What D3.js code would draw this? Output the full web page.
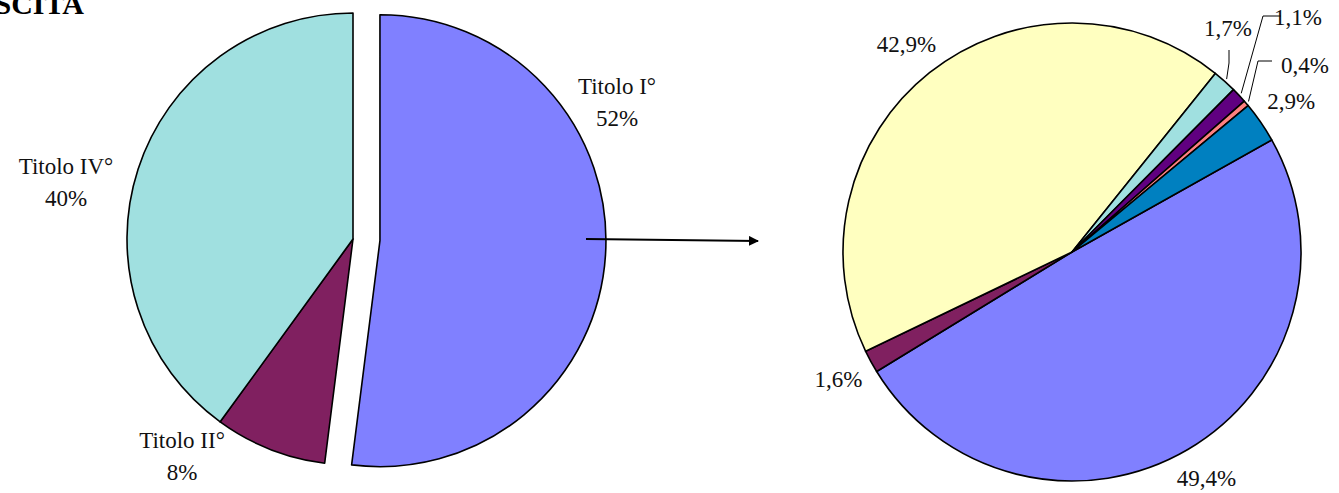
<!DOCTYPE html>
<html>
<head>
<meta charset="utf-8">
<script src="https://cdn.jsdelivr.net/npm/d3@7"></script>
<style>
  html, body { margin: 0; padding: 0; background: #fff; }
  svg { display: block; }
</style>
</head>
<body>
<svg id="chart" width="1339" height="493"></svg>
<script>
// Left pie: share by title
const mainCategories = ["Titolo I°", "Titolo II°", "Titolo IV°"];
const mainValues = [52, 8, 40];
const mainColors = ["#8080FF", "#802060", "#A0E0E0"];

// Right pie: breakdown, clockwise from the first slice
const detailLabels = ["49,4%", "1,6%", "42,9%", "1,7%", "1,1%", "0,4%", "2,9%"];
const detailValues = [49.4, 1.6, 42.9, 1.7, 1.1, 0.4, 2.9];
const detailColors = ["#8080FF", "#802060", "#FFFFC0", "#A0E0E0", "#600080", "#FF8080", "#0080C0"];

const title = "USCITA";

const FONT = "'Liberation Serif', 'Times New Roman', 'DejaVu Serif', serif";
const svg = d3.select("#chart");
const rad = deg => deg * Math.PI / 180;

// ---------- left pie ----------
const L = { cx: 353, cy: 239, r: 226, explode: 27 };
const leftPie = d3.pie().sort(null).value(d => d)(mainValues);
const leftArc = d3.arc().innerRadius(0).outerRadius(L.r);

const gL = svg.append("g").attr("transform", `translate(${L.cx},${L.cy})`);
gL.selectAll("path")
  .data(leftPie)
  .join("path")
  .attr("d", leftArc)
  .attr("fill", (d, i) => mainColors[i])
  .attr("stroke", "#000")
  .attr("stroke-width", 1.6)
  .attr("stroke-linejoin", "round")
  .attr("transform", (d, i) => {
    if (i !== 0) return null;
    const a = (d.startAngle + d.endAngle) / 2;
    return `translate(${L.explode * Math.sin(a)},${-L.explode * Math.cos(a)})`;
  });

// label anchor points for the left pie (first line of a two-line label)
const mainLabelPos = [[617, 86], [182, 440], [66, 166]];
const fontSize = 23;
mainCategories.forEach((c, i) => {
  const [x, y] = mainLabelPos[i];
  const t = svg.append("text")
    .attr("x", x).attr("y", y)
    .attr("text-anchor", "middle")
    .attr("font-family", FONT)
    .attr("font-size", fontSize)
    .attr("fill", "#111");
  t.append("tspan").attr("x", x).attr("dy", "0.35em").text(c);
  t.append("tspan").attr("x", x).attr("dy", "1.4em").text(d3.format(".0f")(mainValues[i]) + "%");
});

// connecting arrow
const defs = svg.append("defs");
defs.append("marker")
  .attr("id", "arrowhead")
  .attr("viewBox", "0 0 10 10")
  .attr("refX", 9).attr("refY", 5)
  .attr("markerWidth", 5).attr("markerHeight", 5)
  .attr("markerUnits", "strokeWidth")
  .attr("orient", "auto")
  .append("path")
  .attr("d", "M0,0 L10,5 L0,10 Z")
  .attr("fill", "#000");
svg.append("line")
  .attr("x1", 586).attr("y1", 239)
  .attr("x2", 758).attr("y2", 241)
  .attr("stroke", "#000")
  .attr("stroke-width", 2)
  .attr("marker-end", "url(#arrowhead)");

// ---------- right pie ----------
const R = { cx: 1072, cy: 252, r: 229, start: 60.7 };
const rightPie = d3.pie().sort(null).value(d => d)
  .startAngle(rad(R.start)).endAngle(rad(R.start) + 2 * Math.PI)(detailValues);
const rightArc = d3.arc().innerRadius(0).outerRadius(R.r);

const gR = svg.append("g").attr("transform", `translate(${R.cx},${R.cy})`);
gR.selectAll("path")
  .data(rightPie)
  .join("path")
  .attr("d", rightArc)
  .attr("fill", (d, i) => detailColors[i])
  .attr("stroke", "#000")
  .attr("stroke-width", 1.6)
  .attr("stroke-linejoin", "round");

// labels: placed along the slice mid-angle, small slices pulled out with leaders
const labelRadius = 266;
const maxLabelY = 478;
const leaderSlices = {
  3: { label: [1228, 28], path: [[1229, 50], [1229, 63]] },
  4: { label: [1298, 17], path: [[1281, 16], [1263, 16]] },
  5: { label: [1305, 65], path: [[1272, 61], [1258, 61]] }
};
const edgeArc = d3.arc().innerRadius(R.r + 3).outerRadius(R.r + 3);

rightPie.forEach((d, i) => {
  const a = (d.startAngle + d.endAngle) / 2;
  let x, y;
  const lead = leaderSlices[i];
  if (lead) {
    [x, y] = lead.label;
    const [ex, ey] = edgeArc.centroid(d);
    const pts = lead.path.concat([[R.cx + ex, R.cy + ey]]);
    svg.append("path")
      .attr("d", d3.line()(pts))
      .attr("fill", "none")
      .attr("stroke", "#000")
      .attr("stroke-width", 1);
  } else {
    x = R.cx + labelRadius * Math.sin(a);
    y = Math.min(maxLabelY, R.cy - labelRadius * Math.cos(a));
  }
  svg.append("text")
    .attr("x", x).attr("y", y)
    .attr("dy", "0.35em")
    .attr("text-anchor", "middle")
    .attr("font-family", FONT)
    .attr("font-size", fontSize)
    .attr("fill", "#111")
    .text(detailLabels[i]);
});

// title (runs off the top-left corner)
svg.append("text")
  .attr("x", 84).attr("y", 14)
  .attr("text-anchor", "end")
  .attr("font-family", FONT)
  .attr("font-size", 30)
  .attr("font-weight", "bold")
  .attr("fill", "#000")
  .text(title);
</script>
</body>
</html>
